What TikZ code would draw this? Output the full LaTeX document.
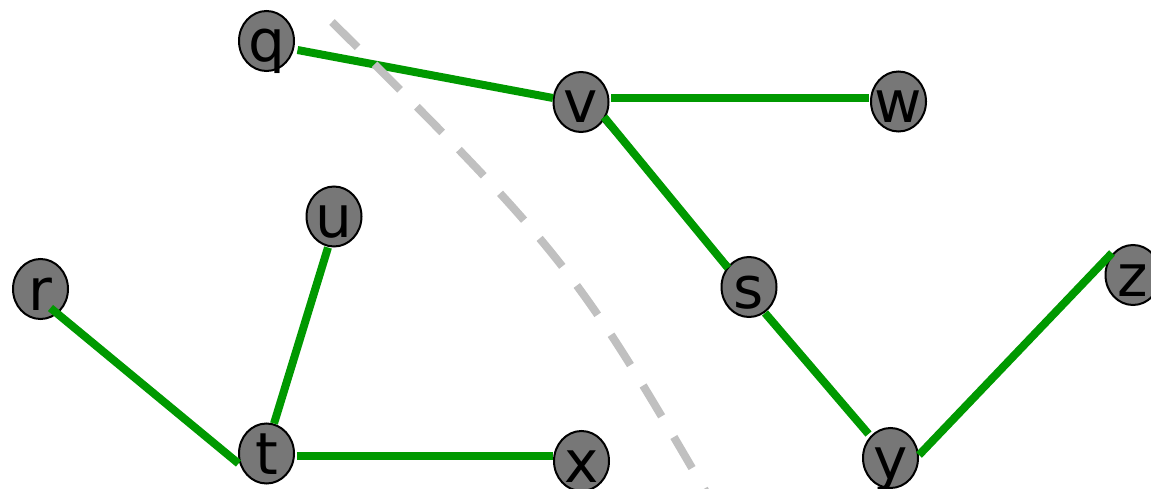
\documentclass[tikz,border=0pt]{standalone}
\usepackage{fontspec}
\setmainfont{DejaVu Sans}
\usetikzlibrary{calc,shapes.geometric}
\definecolor{nodegray}{RGB}{119,119,119}
\definecolor{edgegreen}{RGB}{0,153,0}
\definecolor{cutgray}{RGB}{192,192,192}
\newcommand\vlbl[1]{\makebox[0pt]{#1}}
\pgfdeclarelayer{bglayer}
\pgfsetlayers{bglayer,main}
\begin{document}
\begin{tikzpicture}[x=1pt,y=-1pt,
  vtx/.style={ellipse, draw=black, line width=2pt, fill=nodegray,
    minimum width=55pt, minimum height=60pt, inner sep=0pt,
    text height=42pt, text depth=0pt, font=\fontsize{58}{58}\selectfont},
  edge/.style={draw=edgegreen, line width=8pt},
  cut/.style={draw=cutgray, line width=8pt, dash pattern=on 36pt off 24pt}]
\useasboundingbox (0,0) rectangle (1151,489);
\node[vtx] (q) at (266.5,41) {\vlbl{q}};
\node[vtx] (v) at (581,102) {\vlbl{v}};
\node[vtx] (w) at (898.5,101.5) {\vlbl{w}};
\node[vtx] (u) at (334,216.5) {\vlbl{u}};
\node[vtx] (r) at (40.5,289) {\vlbl{r}};
\node[vtx] (s) at (749,287) {\vlbl{s}};
\node[vtx] (z) at (1133,275) {\vlbl{z}};
\node[vtx] (t) at (266.5,453.5) {\vlbl{t}};
\node[vtx] (x) at (581.5,461) {\vlbl{x}};
\node[vtx] (y) at (890.5,458) {\vlbl{y}};
% thin black v--s line, under the nodes
\begin{pgfonlayer}{bglayer}
\draw[line width=1.5pt] ($(v.center)+(5,0)$) -- (s.center);
\end{pgfonlayer}
\draw[edge] ($(q.center)+(31,9)$) -- ($(v.center)+(-28,-4)$);
\draw[edge] ($(v.center)+(30,-4)$) -- ($(w.center)+(-29.5,-3.5)$);
\draw[edge] ($(v.center)+(23,15)$) -- ($(s.center)+(-21,-19)$);
\draw[edge] ($(r.center)+(10,19)$) -- ($(t.center)+(-28,10)$);
\draw[edge] ($(u.center)+(-6,31)$) -- ($(t.center)+(7.5,-30)$);
\draw[edge] ($(t.center)+(30.5,2.5)$) -- ($(x.center)+(-28.5,-5)$);
\draw[edge] ($(s.center)+(16,26)$) -- ($(y.center)+(-22,-24)$);
\draw[edge] ($(y.center)+(28.5,-3)$) -- ($(z.center)+(-21,-22)$);
\draw[cut] (332,22) .. controls (562,250) and (578,272) .. (706,492);
\end{tikzpicture}
\end{document}
